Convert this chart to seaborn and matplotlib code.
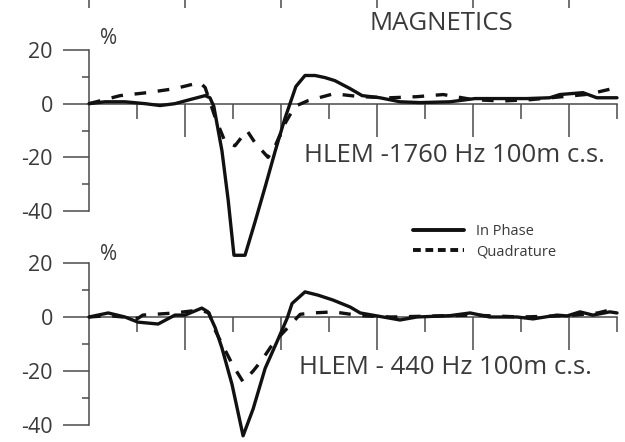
import matplotlib
matplotlib.use("Agg")
import matplotlib.pyplot as plt
from matplotlib.lines import Line2D
from matplotlib.ticker import FixedLocator, NullFormatter
import seaborn as sns

# Station positions (m) and HLEM responses (%) read along the profile
hi_ip_x = [0, 33, 75, 117, 148, 179, 210, 242, 252, 260, 277, 290, 302, 325,
           346, 367, 388, 408, 423, 431, 450, 471, 492, 512, 544, 569, 606,
           648, 690, 752, 804, 856, 912, 960, 981, 1029, 1058, 1100]
hi_ip_y = [0, 0.7, 0.7, 0, -0.7, 0, 1.5, 3, 2.2, -1, -17.6, -36, -56.5, -56.5,
           -44, -31, -17.6, -5.6, 2.2, 6.4, 10.5, 10.5, 9.7, 8.6, 5.6, 3, 2.2,
           0.7, 0.4, 0.7, 1.9, 1.9, 1.9, 2.2, 3.4, 4.1, 2.2, 2.2]

hi_q_x = [0, 65, 121, 179, 231, 242, 263, 283, 304, 329, 346, 373, 388, 408,
          429, 456, 510, 565, 627, 683, 738, 800, 860, 920, 980, 1040, 1100]
hi_q_y = [0, 3, 4.1, 5.6, 7.9, 6, -5.2, -14, -15.7, -10, -14.6, -20, -15.7,
          -7.5, -1, 1.1, 3.7, 2.6, 2.2, 2.6, 3.4, 1.5, 1, 1.5, 2.5, 3.5, 6]

lo_ip_x = [0, 40, 75, 102, 144, 179, 200, 235, 248, 263, 277, 298, 321, 342,
           367, 392, 413, 423, 450, 477, 508, 544, 565, 600, 648, 683, 752,
           794, 835, 892, 925, 975, 996, 1023, 1050, 1085, 1100]
lo_ip_y = [0, 1.5, 0, -1.9, -2.6, 0.7, 0.7, 3.3, 1.9, -4, -11.5, -25, -44,
           -34, -19, -9, -0.4, 5, 9.3, 8.1, 6.3, 3.7, 1.5, 0.4, -1.1, 0, 0.5,
           1.5, 0, 0, -0.7, 0.7, 0.4, 1.9, 0.7, 1.9, 1.5]

lo_q_x = [0, 40, 102, 112, 179, 231, 250, 263, 277, 300, 321, 342, 360, 379,
          398, 419, 440, 465, 510, 565, 630, 700, 800, 900, 1000, 1060, 1085,
          1100]
lo_q_y = [0, 0.5, -0.5, 0.7, 1.5, 2.6, 1.5, -5, -10, -18, -24, -20, -16, -11,
          -7, -3, 1, 1.5, 1.9, 0.5, 0, 0.3, 0.7, 0, 0.5, 1.5, 2.6, 2]

y_major = [-40, -20, 0, 20]
y_minor = [-30, -10, 10]
x_major = [200, 400, 600, 800, 1000]
x_minor = [100, 300, 500, 700, 900, 1100]
x_upper = [0, 200, 400, 600, 800, 1000]

panel_labels = ["HLEM -1760 Hz 100m c.s.", "HLEM - 440 Hz 100m c.s."]
series_names = ["In Phase", "Quadrature"]

sns.set_style("white")
plt.rcParams["font.family"] = ["Open Sans", "DejaVu Sans"]
plt.rcParams["axes.unicode_minus"] = False

TXT = "#3a3a3a"
AX = "#4a4a4a"
INK = "#111111"
LW = 2.4
DASH = (3.5, 3.5)

W, H = 625, 442
fig = plt.figure(figsize=(W / 100, H / 100), dpi=100)


def fx(px):
    return px / W


def fy(py):
    return 1 - py / H


def make_panel(top_px, bot_px):
    ax = fig.add_axes([fx(89), fy(bot_px), fx(617) - fx(89), fy(top_px) - fy(bot_px)])
    ax.set_xlim(0, 1100)
    ax.set_ylim(-40, 20)
    for s in ("top", "right"):
        ax.spines[s].set_visible(False)
    ax.spines["bottom"].set_position(("data", 0))
    for s in ("left", "bottom"):
        ax.spines[s].set_color(AX)
        ax.spines[s].set_linewidth(1.1)
    ax.yaxis.set_major_locator(FixedLocator(y_major))
    ax.yaxis.set_minor_locator(FixedLocator(y_minor))
    ax.xaxis.set_major_locator(FixedLocator(x_major))
    ax.xaxis.set_minor_locator(FixedLocator(x_minor))
    ax.xaxis.set_major_formatter(NullFormatter())
    ax.tick_params(axis="y", which="major", direction="out", length=19, width=1.1,
                   color=AX, labelsize=15.5, labelcolor=TXT, pad=7, left=True)
    ax.tick_params(axis="y", which="minor", direction="out", length=5, width=1.1,
                   color=AX, left=True)
    ax.tick_params(axis="x", which="major", direction="out", length=24, width=1.1,
                   color=AX, bottom=True)
    ax.tick_params(axis="x", which="minor", direction="out", length=11, width=1.1,
                   color=AX, bottom=True)
    ax.set_xlabel("")
    ax.set_ylabel("")
    return ax


ax1 = make_panel(50, 211)
ax2 = make_panel(263, 425)

for ax, (ipx, ipy, qx, qy) in zip(
        (ax1, ax2),
        ((hi_ip_x, hi_ip_y, hi_q_x, hi_q_y), (lo_ip_x, lo_ip_y, lo_q_x, lo_q_y))):
    sns.lineplot(x=ipx, y=ipy, ax=ax, color=INK, lw=LW, estimator=None,
                 clip_on=False, zorder=4)
    sns.lineplot(x=qx, y=qy, ax=ax, color=INK, lw=LW, estimator=None,
                 clip_on=False, zorder=3)
    ax.lines[-1].set_dashes(DASH)

# percent units beside each y axis
for py in (38, 255):
    fig.text(fx(100), fy(py), "%", ha="left", va="center", fontsize=15, color=TXT)

# frequency labels
fig.text(fx(304), fy(155), panel_labels[0], ha="left", va="center",
         fontsize=18.5, color=TXT)
fig.text(fx(299), fy(367), panel_labels[1], ha="left", va="center",
         fontsize=18.5, color=TXT)

# magnetics heading with the tick marks of the profile above
fig.text(fx(441), fy(23), "MAGNETICS", ha="center", va="center",
         fontsize=18.5, color=TXT)
axu = fig.add_axes([fx(89), 1.0, fx(617) - fx(89), 0.05])
axu.set_xlim(0, 1100)
for s in axu.spines.values():
    s.set_visible(False)
axu.set_yticks([])
axu.xaxis.set_major_locator(FixedLocator(x_upper))
axu.xaxis.set_major_formatter(NullFormatter())
axu.tick_params(axis="x", direction="out", length=6, width=1.1, color=AX, bottom=True)
axu.patch.set_alpha(0)

handles = [Line2D([], [], color=INK, lw=2.8),
           Line2D([], [], color=INK, lw=2.8, dashes=(2.0, 1.2))]
fig.legend(handles, series_names, loc="upper left",
           bbox_to_anchor=(fx(413), fy(224)), frameon=False, fontsize=10.5,
           handlelength=3.5, handletextpad=0.8, labelspacing=0.35,
           borderpad=0, borderaxespad=0, labelcolor=TXT)

fig.savefig("out.png", dpi=100)
